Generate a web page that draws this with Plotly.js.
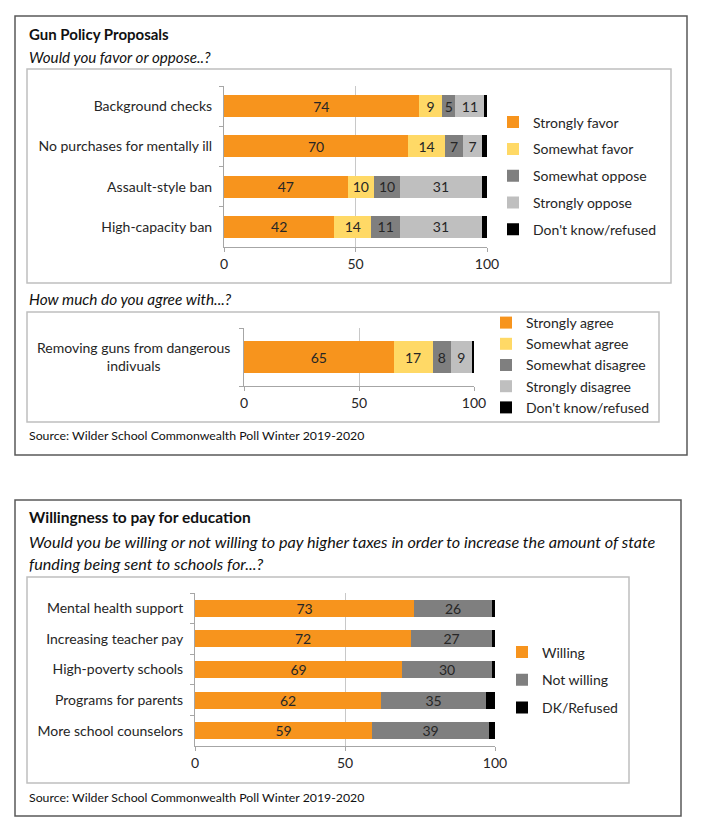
<!DOCTYPE html>
<html><head><meta charset="utf-8">
<script src="https://cdn.plot.ly/plotly-3.0.1.min.js"></script>
<style>html,body{margin:0;padding:0;background:#fff}#chart{width:709px;height:827px}</style>
</head><body><div id="chart"></div>
<script>
// ---------- DATA ----------
const gunCategories = ["Background checks", "No purchases for mentally ill", "Assault-style ban", "High-capacity ban"];
const gunSeriesNames = ["Strongly favor", "Somewhat favor", "Somewhat oppose", "Strongly oppose", "Don't know/refused"];
const gunStronglyFavor = [74, 70, 47, 42];
const gunSomewhatFavor = [9, 14, 10, 14];
const gunSomewhatOppose = [5, 7, 10, 11];
const gunStronglyOppose = [11, 7, 31, 31];
const gunDontKnow = [2, 2, 2, 2];

const agreeCategories = ["Removing guns from dangerous<br>indivuals"];
const agreeSeriesNames = ["Strongly agree", "Somewhat agree", "Somewhat disagree", "Strongly disagree", "Don't know/refused"];
const agreeStronglyAgree = [65];
const agreeSomewhatAgree = [17];
const agreeSomewhatDisagree = [8];
const agreeStronglyDisagree = [9];
const agreeDontKnow = [2];

const eduCategories = ["Mental health support", "Increasing teacher pay", "High-poverty schools", "Programs for parents", "More school counselors"];
const eduSeriesNames = ["Willing", "Not willing", "DK/Refused"];
const eduWilling = [73, 72, 69, 62, 59];
const eduNotWilling = [26, 27, 30, 35, 39];
const eduRefused = [1, 1, 1, 3, 2];

const xTickVals = [0, 50, 100];
const xTickText = ["0", "50", "100"];

const titleGun = "Gun Policy Proposals";
const subtitleGun = "Would you favor or oppose..?";
const subtitleAgree = "How much do you agree with...?";
const titleEdu = "Willingness to pay for education";
const subtitleEdu1 = "Would you be willing or not willing to pay higher taxes in order to increase the amount of state";
const subtitleEdu2 = "funding being sent to schools for...?";
const sourceText = "Source: Wilder School Commonwealth Poll Winter 2019-2020";

// ---------- STYLE ----------
const W = 709, H = 827;
const FONT = "Lato, 'Open Sans', sans-serif";
const TXT = "#262626";
const C_ORANGE = "#F7941D", C_YELLOW = "#FFD966", C_DGRAY = "#7F7F7F", C_LGRAY = "#BFBFBF", C_BLACK = "#000000";
const AX = "#A6A6A6", GRID = "#C8C8C8";
const px = v => v / W;
const py = v => 1 - v / H;

function bars(names, cats, seriesList, colors, xa, ya, legendId, showTextFlags) {
  return seriesList.map((vals, i) => ({
    type: "bar", orientation: "h",
    name: names[i], legendgroup: legendId + "_" + i, legend: legendId,
    x: vals, y: cats, xaxis: xa, yaxis: ya,
    marker: { color: colors[i], line: { width: 0 } },
    text: vals.map(v => showTextFlags[i] ? String(v) : ""),
    textposition: "inside", insidetextanchor: "middle", constraintext: "none", textangle: 0,
    textfont: { family: FONT, size: 14, color: TXT },
    cliponaxis: false,
    hovertemplate: "%{y}: %{x}<extra>" + names[i] + "</extra>"
  }));
}

const traces = [].concat(
  bars(gunSeriesNames, gunCategories,
    [gunStronglyFavor, gunSomewhatFavor, gunSomewhatOppose, gunStronglyOppose, gunDontKnow],
    [C_ORANGE, C_YELLOW, C_DGRAY, C_LGRAY, C_BLACK], "x", "y", "legend", [1, 1, 1, 1, 0]),
  bars(agreeSeriesNames, agreeCategories,
    [agreeStronglyAgree, agreeSomewhatAgree, agreeSomewhatDisagree, agreeStronglyDisagree, agreeDontKnow],
    [C_ORANGE, C_YELLOW, C_DGRAY, C_LGRAY, C_BLACK], "x2", "y2", "legend2", [1, 1, 1, 1, 0]),
  bars(eduSeriesNames, eduCategories,
    [eduWilling, eduNotWilling, eduRefused],
    [C_ORANGE, C_DGRAY, C_BLACK], "x3", "y3", "legend3", [1, 1, 0])
);

function xAxis(d0, d1, anchor) {
  return {
    domain: [px(d0), px(d1)], range: [0, 100], anchor: anchor,
    tickmode: "array", tickvals: xTickVals, ticktext: xTickText,
    ticks: "outside", ticklen: 4, tickcolor: AX, tickwidth: 1,
    showline: true, linecolor: AX, linewidth: 1,
    showgrid: true, gridcolor: GRID, gridwidth: 1, zeroline: false,
    tickfont: { family: FONT, size: 14, color: TXT }, fixedrange: true
  };
}
function yAxis(top, bottom, anchor, cats, showLabels) {
  return {
    domain: [py(bottom), py(top)], anchor: anchor, type: "category",
    categoryorder: "array", categoryarray: cats, autorange: "reversed",
    ticks: "outside", tickson: "boundaries", ticklen: 4, tickcolor: AX, tickwidth: 1,
    showline: true, linecolor: AX, linewidth: 1, showgrid: false, zeroline: false,
    showticklabels: showLabels, ticklabelstandoff: 8,
    tickfont: { family: FONT, size: 14, color: TXT }, fixedrange: true
  };
}

function box(x0, y0, x1, y1, color, w) {
  return { type: "rect", xref: "paper", yref: "paper", x0: px(x0), x1: px(x1), y0: py(y1), y1: py(y0),
    line: { color: color, width: w }, fillcolor: "rgba(0,0,0,0)", layer: "below" };
}
function label(text, x, y, size, opts) {
  return Object.assign({ text: text, xref: "paper", yref: "paper", x: px(x), y: py(y),
    xanchor: "left", yanchor: "middle", showarrow: false,
    font: { family: FONT, size: size, color: "#111" } }, opts || {});
}

const legendBase = { xanchor: "left", yanchor: "middle", bgcolor: "rgba(0,0,0,0)", borderwidth: 0,
  font: { family: FONT, size: 14, color: TXT } };

const layout = {
  width: W, height: H, margin: { l: 0, r: 0, t: 0, b: 0 },
  paper_bgcolor: "#ffffff", plot_bgcolor: "rgba(0,0,0,0)",
  barmode: "stack", bargap: 0.45, showlegend: true,
  xaxis: xAxis(224, 487, "y"),
  yaxis: yAxis(86, 247, "x", gunCategories, true),
  xaxis2: xAxis(244, 474, "y2"),
  yaxis2: yAxis(328, 386, "x2", agreeCategories, false),
  xaxis3: xAxis(195, 495, "y3"),
  yaxis3: yAxis(593, 746, "x3", eduCategories, true),
  legend: Object.assign({}, legendBase, { x: px(493), y: py(176), traceorder: "grouped", tracegroupgap: 5.6 }),
  legend2: Object.assign({}, legendBase, { x: px(486), y: py(365), traceorder: "normal" }),
  legend3: Object.assign({}, legendBase, { x: px(502), y: py(680), traceorder: "grouped", tracegroupgap: 6.5 }),
  shapes: [
    box(15, 16, 687, 455, "#595959", 1.5),
    box(27, 69, 671, 283, "#BFBFBF", 1.5),
    box(27, 312, 659, 422, "#BFBFBF", 1.5),
    box(15, 500, 681, 816, "#595959", 1.5),
    box(27, 577, 629, 783, "#BFBFBF", 1.5)
  ],
  annotations: [
    label("<b>" + titleGun + "</b>", 27, 34, 15),
    label("<i>" + subtitleGun + "</i>", 27, 57, 15.2),
    label("<i>" + subtitleAgree + "</i>", 27, 299, 15.4),
    label(sourceText, 27, 435, 12.3),
    label("<b>" + titleEdu + "</b>", 27, 517, 15.5),
    label("<i>" + subtitleEdu1 + "</i>", 27, 541, 16.2),
    label("<i>" + subtitleEdu2 + "</i>", 27, 563, 16.2),
    label(sourceText, 27, 797, 12.3),
    { text: agreeCategories[0], xref: "paper", yref: "y2", x: px(133), y: agreeCategories[0],
      xanchor: "center", yanchor: "middle", align: "center", showarrow: false,
      font: { family: FONT, size: 14, color: TXT } }
  ]
};

Plotly.newPlot("chart", traces, layout, { displayModeBar: false, staticPlot: true });
</script>
</body></html>
